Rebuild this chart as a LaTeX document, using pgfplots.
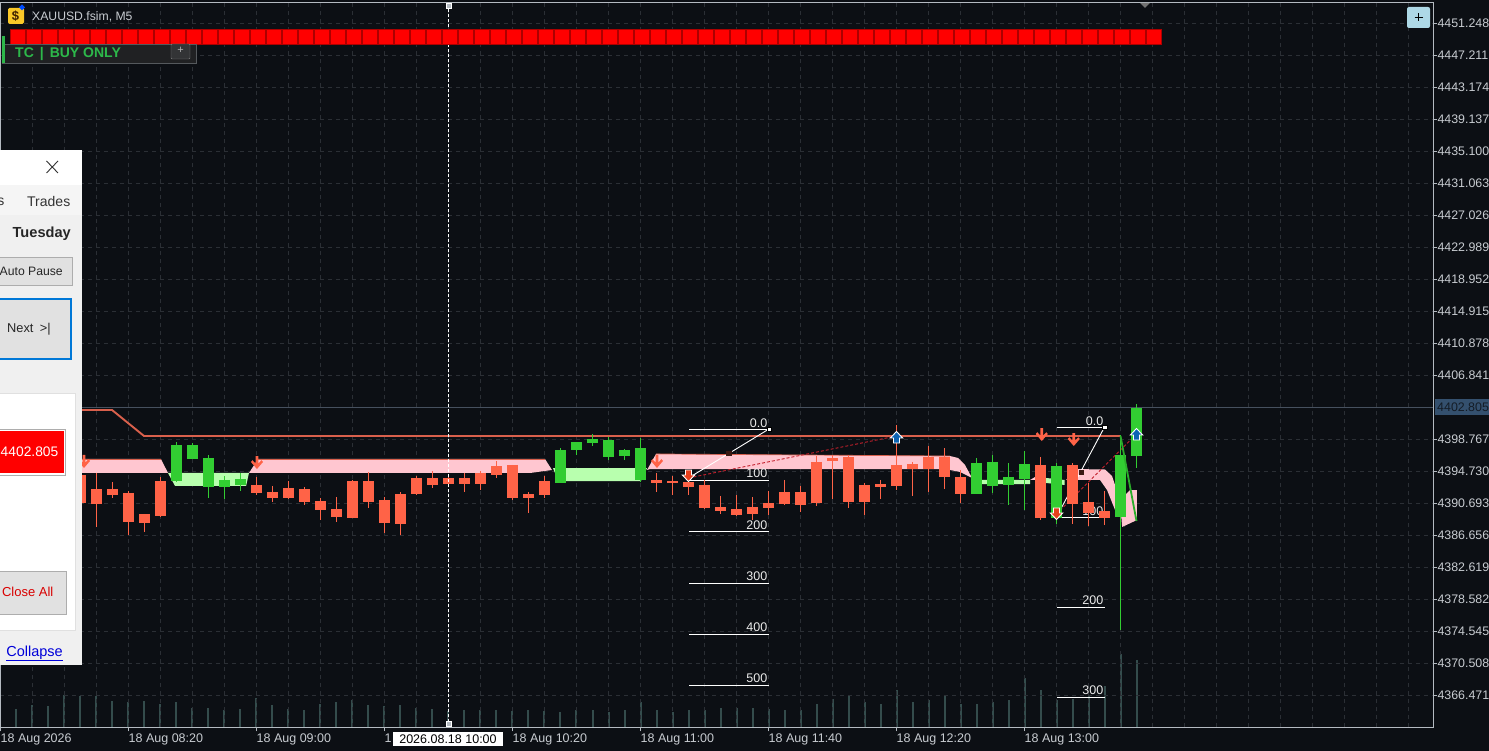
\documentclass[border=0pt]{standalone}
\usepackage{fontspec}
\setmainfont{Liberation Sans}
\usepackage{pgfplots}
\usepackage{pgfplotstable}
\pgfplotsset{compat=1.18}

\definecolor{bg}{HTML}{0C0F14}
\definecolor{gridc}{HTML}{2B2F35}
\definecolor{framec}{HTML}{B4BAC1}
\definecolor{labelc}{HTML}{C8CCD1}
\definecolor{bear}{HTML}{FF6347}
\definecolor{bull}{HTML}{32CD32}
\definecolor{volc}{HTML}{344C4C}
\definecolor{stopc}{HTML}{D9604C}
\definecolor{pinkband}{HTML}{FFC6D0}
\definecolor{greenband}{HTML}{B8FFAE}
\definecolor{priceln}{HTML}{46505E}
\definecolor{pricebox}{HTML}{34506E}
\definecolor{tradered}{HTML}{E8401C}
\definecolor{tradeblue}{HTML}{0C64B4}
\definecolor{dashred}{HTML}{C4202C}
\definecolor{panelbg}{HTML}{F0F0F0}
\definecolor{btn}{HTML}{E1E1E1}
\definecolor{btnline}{HTML}{ADADAD}
\definecolor{winblue}{HTML}{0078D7}
\definecolor{tcgreen}{HTML}{2DB84A}
\definecolor{fibbox}{HTML}{3A1A14}

% i hi top bot lo
\pgfplotstableread{
i hi top bot lo
5 4394.48 4394.23 4390.69 4390.44
6 4394.48 4392.46 4390.57 4387.67
7 4393.34 4392.46 4391.70 4391.33
8 4392.21 4391.96 4388.30 4386.66
9 4389.31 4389.31 4388.17 4387.04
10 4393.97 4393.47 4389.05 4388.93
16 4393.97 4392.97 4391.96 4391.70
17 4392.84 4392.08 4391.33 4390.82
18 4393.47 4392.59 4391.33 4391.20
19 4392.71 4392.46 4390.82 4390.44
20 4391.33 4390.95 4389.81 4388.55
21 4391.45 4389.94 4388.93 4388.30
22 4393.60 4393.47 4388.80 4388.80
23 4394.61 4393.47 4390.82 4390.06
24 4391.45 4391.07 4388.17 4386.91
25 4392.08 4391.83 4388.05 4386.66
26 4394.10 4393.85 4391.83 4391.70
27 4394.73 4393.85 4392.97 4392.59
28 4394.23 4393.85 4393.09 4393.09
29 4394.48 4393.85 4393.09 4392.08
30 4394.73 4394.48 4393.09 4392.33
31 4395.99 4395.36 4394.23 4393.85
32 4395.49 4395.49 4391.33 4391.07
33 4392.08 4391.83 4391.33 4389.43
34 4394.10 4393.47 4391.70 4391.33
41 4394.48 4393.60 4393.22 4392.08
42 4394.10 4393.47 4393.22 4391.70
43 4393.85 4393.34 4392.71 4391.70
44 4393.60 4392.97 4390.06 4389.94
45 4391.58 4390.19 4389.69 4389.31
46 4391.70 4389.94 4389.18 4389.05
47 4391.45 4390.19 4389.31 4388.55
48 4392.21 4390.69 4390.06 4389.18
49 4393.60 4392.08 4390.57 4390.44
50 4392.84 4392.08 4390.44 4389.56
51 4396.62 4395.87 4390.69 4390.32
52 4396.75 4396.37 4395.99 4391.20
53 4396.75 4396.50 4390.82 4390.06
54 4393.22 4392.97 4390.82 4389.18
55 4393.60 4393.09 4392.71 4391.20
56 4400.53 4395.49 4392.84 4392.33
57 4395.87 4395.61 4394.98 4391.58
58 4397.89 4396.50 4394.98 4392.08
59 4397.63 4396.50 4393.97 4392.46
60 4394.86 4393.97 4391.83 4390.69
65 4396.50 4395.49 4388.80 4388.55
67 4395.74 4395.49 4390.57 4388.05
68 4393.22 4390.82 4389.43 4387.79
69 4392.21 4389.69 4388.80 4387.92
}\bearish

\pgfplotstableread{
i hi top bot lo
11 4398.39 4398.01 4393.47 4393.34
12 4398.26 4398.01 4396.25 4396.25
13 4396.75 4396.37 4392.71 4391.33
14 4394.10 4393.60 4392.71 4391.20
15 4394.48 4393.72 4392.97 4392.21
35 4397.63 4397.38 4393.22 4393.22
36 4398.39 4398.39 4397.38 4396.75
37 4399.40 4398.77 4398.26 4397.89
38 4399.02 4398.64 4396.50 4396.12
39 4397.51 4397.38 4396.62 4396.12
40 4398.90 4397.63 4393.60 4393.34
61 4396.37 4395.74 4391.83 4391.83
62 4396.75 4395.87 4392.84 4391.96
63 4395.74 4393.97 4392.97 4390.44
64 4397.25 4395.61 4393.72 4389.81
66 4395.74 4395.36 4388.80 4388.05
70 4399.27 4396.75 4388.93 4374.67
71 4403.18 4402.68 4396.62 4395.11
}\bullish

\pgfplotstableread{
i v
1 18
2 22
3 21
4 32
5 31
6 31
7 26
8 25
9 26
10 23
11 25
12 19
13 19
14 17
15 18
16 29
17 22
18 18
19 17
20 23
21 25
22 27
23 22
24 21
25 22
26 19
27 18
28 16
29 17
30 17
31 17
32 16
33 17
34 16
35 15
36 17
37 17
38 15
39 17
40 25
41 17
42 15
43 17
44 17
45 19
46 19
47 19
48 18
49 17
50 17
51 23
52 28
53 31
54 25
55 23
56 37
57 25
58 27
59 31
60 23
61 23
62 25
63 27
64 49
65 37
66 27
67 28
68 32
69 41
70 73
71 67
}\volumes

\pgfdeclareplotmark{sigdown}{%
  \pgfpathmoveto{\pgfpoint{-1.4pt}{7pt}}
  \pgfpathlineto{\pgfpoint{1.4pt}{7pt}}
  \pgfpathlineto{\pgfpoint{1.4pt}{-0.5pt}}
  \pgfpathlineto{\pgfpoint{4.5pt}{2.8pt}}
  \pgfpathlineto{\pgfpoint{6pt}{1pt}}
  \pgfpathlineto{\pgfpoint{0pt}{-6pt}}
  \pgfpathlineto{\pgfpoint{-6pt}{1pt}}
  \pgfpathlineto{\pgfpoint{-4.5pt}{2.8pt}}
  \pgfpathlineto{\pgfpoint{-1.4pt}{-0.5pt}}
  \pgfpathclose\pgfusepathqfill}
\pgfdeclareplotmark{tradedown}{%
  \pgfpathmoveto{\pgfpoint{-3pt}{6pt}}
  \pgfpathlineto{\pgfpoint{3pt}{6pt}}
  \pgfpathlineto{\pgfpoint{3pt}{1pt}}
  \pgfpathlineto{\pgfpoint{6.2pt}{1pt}}
  \pgfpathlineto{\pgfpoint{0pt}{-5.5pt}}
  \pgfpathlineto{\pgfpoint{-6.2pt}{1pt}}
  \pgfpathlineto{\pgfpoint{-3pt}{1pt}}
  \pgfpathclose\pgfusepathqfillstroke}
\pgfdeclareplotmark{tradeup}{%
  \pgfpathmoveto{\pgfpoint{-3pt}{-6pt}}
  \pgfpathlineto{\pgfpoint{3pt}{-6pt}}
  \pgfpathlineto{\pgfpoint{3pt}{-1pt}}
  \pgfpathlineto{\pgfpoint{6.2pt}{-1pt}}
  \pgfpathlineto{\pgfpoint{0pt}{5.5pt}}
  \pgfpathlineto{\pgfpoint{-6.2pt}{-1pt}}
  \pgfpathlineto{\pgfpoint{-3pt}{-1pt}}
  \pgfpathclose\pgfusepathqfillstroke}

\newcommand{\sz}[1]{\fontsize{#1}{#1}\selectfont}

\begin{document}
\begin{tikzpicture}
\path[use as bounding box] (0,0) rectangle (1489pt,751pt);
\fill[bg] (0,0) rectangle (1489pt,751pt);

% tick volume, own scale (pixels high)
\begin{axis}[
  at={(0pt,23.5pt)},anchor=south west,scale only axis,
  width=1433.3pt,height=724.8pt,
  xmin=-0.03,xmax=89.55,ymin=0,ymax=724.8,
  hide axis]
\addplot[ycomb,volc,line width=2pt] table[x=i,y=v] {\volumes};
\end{axis}

\begin{axis}[
  at={(0pt,23.5pt)},anchor=south west,scale only axis,
  width=1433.3pt,height=724.8pt,
  xmin=-0.03,xmax=89.55,ymin=4362.375,ymax=4453.81,
  axis line style={framec,line width=1pt},
  xtick pos=lower,ytick pos=upper,tick align=outside,
  tick style={framec,line width=.8pt},
  major tick length=4pt,minor tick length=0pt,
  xtick={0,8,16,24,32,40,48,56,64},
  xticklabels={18 Aug 2026,18 Aug 08:20,18 Aug 09:00,1,18 Aug 10:20,18 Aug 11:00,18 Aug 11:40,18 Aug 12:20,18 Aug 13:00},
  minor xtick={2,4,6,10,12,14,18,20,22,26,28,30,34,36,38,42,44,46,50,52,54,58,60,62,66,68,70,72,74,76,78,80,82,84,86,88},
  ytick={4451.248,4447.211,4443.174,4439.137,4435.100,4431.063,4427.026,4422.989,4418.952,4414.915,4410.878,4406.841,4398.767,4394.730,4390.693,4386.656,4382.619,4378.582,4374.545,4370.508,4366.471},
  yticklabels={4451.248,4447.211,4443.174,4439.137,4435.100,4431.063,4427.026,4422.989,4418.952,4414.915,4410.878,4406.841,4398.767,4394.730,4390.693,4386.656,4382.619,4378.582,4374.545,4370.508,4366.471},
  tick label style={text=labelc,inner sep=0pt},
  x tick label style={anchor=north west,yshift=-2pt,font=\sz{12.5}},
  y tick label style={anchor=west,font=\sz{12.4}},
  xmajorgrids=true,xminorgrids=true,ymajorgrids=true,
  grid style={gridc,line width=.7pt,dash pattern=on 4pt off 4pt},
  minor grid style={gridc,line width=.7pt,dash pattern=on 4pt off 4pt},
  ]
% signal cells
\addplot[only marks,mark=square*,mark size=7.7pt,mark options={fill=red,draw=red!68!black,line width=.5pt}] coordinates {
(1.09,4449.55)(2.09,4449.55)(3.09,4449.55)(4.09,4449.55)(5.09,4449.55)(6.09,4449.55)(7.09,4449.55)(8.09,4449.55)(9.09,4449.55)(10.09,4449.55)
(11.09,4449.55)(12.09,4449.55)(13.09,4449.55)(14.09,4449.55)(15.09,4449.55)(16.09,4449.55)(17.09,4449.55)(18.09,4449.55)(19.09,4449.55)(20.09,4449.55)
(21.09,4449.55)(22.09,4449.55)(23.09,4449.55)(24.09,4449.55)(25.09,4449.55)(26.09,4449.55)(27.09,4449.55)(28.09,4449.55)(29.09,4449.55)(30.09,4449.55)
(31.09,4449.55)(32.09,4449.55)(33.09,4449.55)(34.09,4449.55)(35.09,4449.55)(36.09,4449.55)(37.09,4449.55)(38.09,4449.55)(39.09,4449.55)(40.09,4449.55)
(41.09,4449.55)(42.09,4449.55)(43.09,4449.55)(44.09,4449.55)(45.09,4449.55)(46.09,4449.55)(47.09,4449.55)(48.09,4449.55)(49.09,4449.55)(50.09,4449.55)
(51.09,4449.55)(52.09,4449.55)(53.09,4449.55)(54.09,4449.55)(55.09,4449.55)(56.09,4449.55)(57.09,4449.55)(58.09,4449.55)(59.09,4449.55)(60.09,4449.55)
(61.09,4449.55)(62.09,4449.55)(63.09,4449.55)(64.09,4449.55)(65.09,4449.55)(66.09,4449.55)(67.09,4449.55)(68.09,4449.55)(69.09,4449.55)(70.09,4449.55)
(71.09,4449.55)(72.09,4449.55)};

% last price line
\addplot[priceln,line width=.9pt] coordinates {(-0.03,4402.805)(89.55,4402.805)};

% cloud
\addplot[fill=pinkband,draw=none] coordinates {(0,4396.25)(10.03,4396.25)(10.47,4394.48)(0,4394.48)};
\addplot[fill=greenband,draw=none] coordinates {(10.47,4394.48)(15.53,4394.48)(15.35,4392.84)(10.91,4392.84)};
\addplot[fill=pinkband,draw=none] coordinates {(15.53,4394.48)(16.10,4396.25)(34.03,4396.25)(34.47,4394.86)(33.10,4394.48)};
\addplot[fill=greenband,draw=none] coordinates {(34.53,4395.11)(40.41,4395.11)(40.03,4393.47)(34.85,4393.47)};
\addplot[fill=pinkband,draw=none] coordinates {(40.41,4394.86)(40.97,4396.88)(59.35,4396.62)(59.85,4396.37)(60.28,4395.49)(60.72,4393.85)(59.97,4394.61)(59.03,4394.98)(40.60,4394.98)};
\addplot[fill=greenband,draw=none] coordinates {(60.72,4393.60)(64.35,4393.60)(64.35,4393.09)(60.91,4393.09)};
\addplot[fill=pinkband,draw=none] coordinates {(64.35,4393.60)(64.97,4394.35)(64.97,4393.60)};
\addplot[fill=greenband,draw=none] coordinates {(65.35,4393.85)(66.5,4393.60)(66.5,4392.97)(65.35,4393.22)};
\addplot[fill=pinkband,draw=none] coordinates {(66.60,4393.60)(67.16,4394.98)(69.03,4394.92)(69.47,4394.10)(69.97,4391.07)(70.28,4387.67)(70.10,4388.80)(69.66,4389.81)(69.16,4392.33)(68.72,4393.60)};
\addplot[fill=pinkband,draw=none] coordinates {(69.97,4391.07)(70.60,4392.33)(71.03,4392.33)(71.03,4388.55)(70.10,4387.67)};
\addplot[stopc,line width=.7pt] coordinates {(0,4396.25)(10.03,4396.25)};
\addplot[stopc,line width=.7pt] coordinates {(16.10,4396.25)(34.03,4396.25)};
\addplot[stopc,line width=.7pt] coordinates {(40.97,4396.88)(59.35,4396.62)};

% trailing stop
\addplot[stopc,line width=1.9pt] coordinates {(0,4402.43)(6.97,4402.43)(8.97,4399.15)(69.97,4399.15)};

% fibonacci levels
\addplot[white,line width=.9pt] coordinates {(43.06,4400.03)(48.06,4400.03)};
\addplot[white,line width=.9pt] coordinates {(43.06,4393.60)(48.06,4393.60)};
\addplot[white,line width=.9pt] coordinates {(43.06,4387.10)(48.06,4387.10)};
\addplot[white,line width=.9pt] coordinates {(43.06,4380.60)(48.06,4380.60)};
\addplot[white,line width=.9pt] coordinates {(43.06,4374.17)(48.06,4374.17)};
\addplot[white,line width=.9pt] coordinates {(43.06,4367.74)(48.06,4367.74)};
\addplot[white,line width=.9pt] coordinates {(66.06,4400.28)(69.06,4400.28)};
\addplot[white,line width=.9pt] coordinates {(66.06,4388.93)(69.06,4388.93)};
\addplot[white,line width=.9pt] coordinates {(66.06,4377.58)(69.06,4377.58)};
\addplot[white,line width=.9pt] coordinates {(66.06,4366.22)(69.06,4366.22)};
\addplot[white,line width=.9pt] coordinates {(43,4393.85)(48.03,4400.03)};
\addplot[white,line width=.9pt] coordinates {(66,4388.93)(69,4400.28)};
\addplot[only marks,mark=square*,mark size=2.2pt,mark options={fill=white,draw=black,line width=.4pt}] coordinates {(48.03,4400.03)(69,4400.28)};
\addplot[only marks,mark=square*,mark size=2.2pt,mark options={fill=fibbox,draw=fibbox}] coordinates {(45.5,4397.0)(67.53,4394.61)};
\node[anchor=south east,text=white!92!black,font=\sz{12.5},inner sep=1pt] at (axis cs:48.0,4400.1) {0.0};
\node[anchor=south east,text=white!92!black,font=\sz{12.5},inner sep=1pt] at (axis cs:48.0,4393.7) {100};
\node[anchor=south east,text=white!92!black,font=\sz{12.5},inner sep=1pt] at (axis cs:48.0,4387.2) {200};
\node[anchor=south east,text=white!92!black,font=\sz{12.5},inner sep=1pt] at (axis cs:48.0,4380.7) {300};
\node[anchor=south east,text=white!92!black,font=\sz{12.5},inner sep=1pt] at (axis cs:48.0,4374.3) {400};
\node[anchor=south east,text=white!92!black,font=\sz{12.5},inner sep=1pt] at (axis cs:48.0,4367.85) {500};
\node[anchor=south east,text=white!92!black,font=\sz{12.5},inner sep=1pt] at (axis cs:69.0,4400.35) {0.0};
\node[anchor=south east,text=white!92!black,font=\sz{12.5},inner sep=1pt] at (axis cs:69.0,4389.0) {100};
\node[anchor=south east,text=white!92!black,font=\sz{12.5},inner sep=1pt] at (axis cs:69.0,4377.7) {200};
\node[anchor=south east,text=white!92!black,font=\sz{12.5},inner sep=1pt] at (axis cs:69.0,4366.35) {300};

% trade connectors
\addplot[dashred,line width=.9pt,dash pattern=on 3pt off 2pt] coordinates {(43,4393.85)(56,4399.15)};
\addplot[dashred,line width=.9pt,dash pattern=on 3pt off 2pt] coordinates {(66,4389.31)(71,4399.40)};

% candles
\addplot[draw=none,forget plot,error bars/.cd,y dir=minus,y explicit,error mark=none,error bar style={bear,line width=1.2pt}]
  table[x=i,y=hi,y error minus expr=\thisrow{hi}-\thisrow{lo}] {\bearish};
\addplot[draw=none,forget plot,error bars/.cd,y dir=minus,y explicit,error mark=none,error bar style={bear,line width=11.2pt}]
  table[x=i,y=top,y error minus expr=\thisrow{top}-\thisrow{bot}] {\bearish};
\addplot[draw=none,forget plot,error bars/.cd,y dir=minus,y explicit,error mark=none,error bar style={bull,line width=1.2pt}]
  table[x=i,y=hi,y error minus expr=\thisrow{hi}-\thisrow{lo}] {\bullish};
\addplot[draw=none,forget plot,error bars/.cd,y dir=minus,y explicit,error mark=none,error bar style={bull,line width=11.2pt}]
  table[x=i,y=top,y error minus expr=\thisrow{top}-\thisrow{bot}] {\bullish};
\addplot[bull!85!black,line width=1.8pt] coordinates {(70,4399.15)(71,4388.42)};

% signals and trades
\addplot[only marks,mark=sigdown,mark options={fill=bear,draw=none}] coordinates {(5.22,4395.87)(16.03,4395.74)(41.03,4395.87)(65.08,4399.27)(67.08,4398.64)};
\addplot[only marks,mark=tradedown,mark options={fill=tradered,draw=white,line width=.9pt}] coordinates {(43,4394.10)(66,4389.31)};
\addplot[only marks,mark=tradeup,mark options={fill=tradeblue,draw=white,line width=.9pt}] coordinates {(56,4399.02)(71,4399.40)};

% crosshair
\addplot[white,line width=1pt,dash pattern=on 3pt off 2pt] coordinates {(28,4362.375)(28,4453.81)};
\addplot[only marks,mark=square*,mark size=2.3pt,mark options={fill=framec,draw=white}] coordinates {(28,4453.45)(28,4362.85)};
\end{axis}

\begin{scope}[x=1pt,y=-1pt,shift={(0pt,751pt)}]
% last price tag
\fill[pricebox] (1435,399) rectangle (1489,415);
\node[anchor=west,inner sep=0pt,text=bg!80!pricebox,font=\sz{12.4}] at (1437,407.5) {4402.805};
% crosshair time tag
\fill[white] (393,732) rectangle (503,746);
\node[text=black,inner sep=0pt,font=\sz{12.5}] at (448,739) {2026.08.18 10:00};
% + button, top right
\fill[rounded corners=2pt,fill={rgb,255:red,173;green,216;blue,230}] (1407,7) rectangle (1430,28);
\draw[black,line width=1.2pt] (1414.5,17.5) -- (1422.5,17.5) (1418.5,13.5) -- (1418.5,21.5);
\fill[black!55!white] (1140,3) -- (1150,3) -- (1145,8) -- cycle;
% title and symbol icon
\fill[rounded corners=1.5pt,fill={rgb,255:red,250;green,200;blue,40}] (8,8) rectangle (24,24);
\node[text=black!75!orange,inner sep=0pt,font=\bfseries\sz{13}] at (15.5,16.5) {\$};
\fill[blue!70!cyan] (22,4.5) -- (25,7.5) -- (22,10.5) -- (19,7.5) -- cycle;
\node[anchor=west,inner sep=0pt,text=labelc,font=\sz{12.2}] at (32,17) {XAUUSD.fsim, M5};
% TC panel
\fill[black!60!gray!50!bg,draw=gridc!80!white] (2,44) rectangle (196,63);
\fill[tcgreen] (2,36) rectangle (5,63);
\fill[black!70!white!60!bg,draw=gray,rounded corners=1pt] (171,44) rectangle (190,59);
\node[text=white!70!black,inner sep=0pt,font=\sz{11}] at (180.5,50.5) {+};
\node[anchor=west,inner sep=0pt,text=tcgreen,font=\bfseries\sz{14}] at (15,54) {TC\hspace{6pt}|\hspace{6pt}BUY ONLY};
% trade panel, cut off by the left edge
\fill[panelbg] (0,150) rectangle (82,665);
\fill[white] (0,150) rectangle (82,185);
\draw[black!80!white,line width=.9pt] (46.5,161) -- (58,173) (58,161) -- (46.5,173);
\fill[white!96!black] (0,185) rectangle (82,215);
\node[anchor=west,inner sep=0pt,text=black!80!white,font=\sz{14}] at (27,202) {Trades};
\node[anchor=east,inner sep=0pt,text=black!80!white,font=\sz{14}] at (4.5,202) {s};
\node[anchor=east,inner sep=0pt,text=black!85!white,font=\bfseries\sz{14.6}] at (71,233.5) {Tuesday};
\fill[btn,draw=btnline] (-2,257.5) rectangle (72,285.5);
\node[anchor=east,inner sep=0pt,text=black!85!white,font=\sz{12.2}] at (63,271.5) {Auto Pause};
\fill[btn,draw=winblue,line width=1.7pt] (-2,299) rectangle (71,359);
\node[inner sep=0pt,text=black!85!white,font=\sz{12.8}] at (29,329.5) {Next\,\,\,>|};
\fill[white,draw=black!12!white] (-2,393.5) rectangle (75,630);
\fill[white,draw=btnline] (-2,429) rectangle (65,475);
\fill[red] (-2,431) rectangle (63.5,473);
\node[anchor=east,inner sep=0pt,text=white,font=\sz{13.8}] at (58.5,451.5) {4402.805};
\fill[btn,draw=btnline] (-2,571) rectangle (66,614);
\node[anchor=east,inner sep=0pt,text=red!85!black,font=\sz{13}] at (53.5,591.5) {Close All};
\node[anchor=east,inner sep=0pt,text=blue!85!black,font=\sz{14.5}] at (63,653.5) {\underline{Collapse}};
\end{scope}
\end{tikzpicture}
\end{document}
